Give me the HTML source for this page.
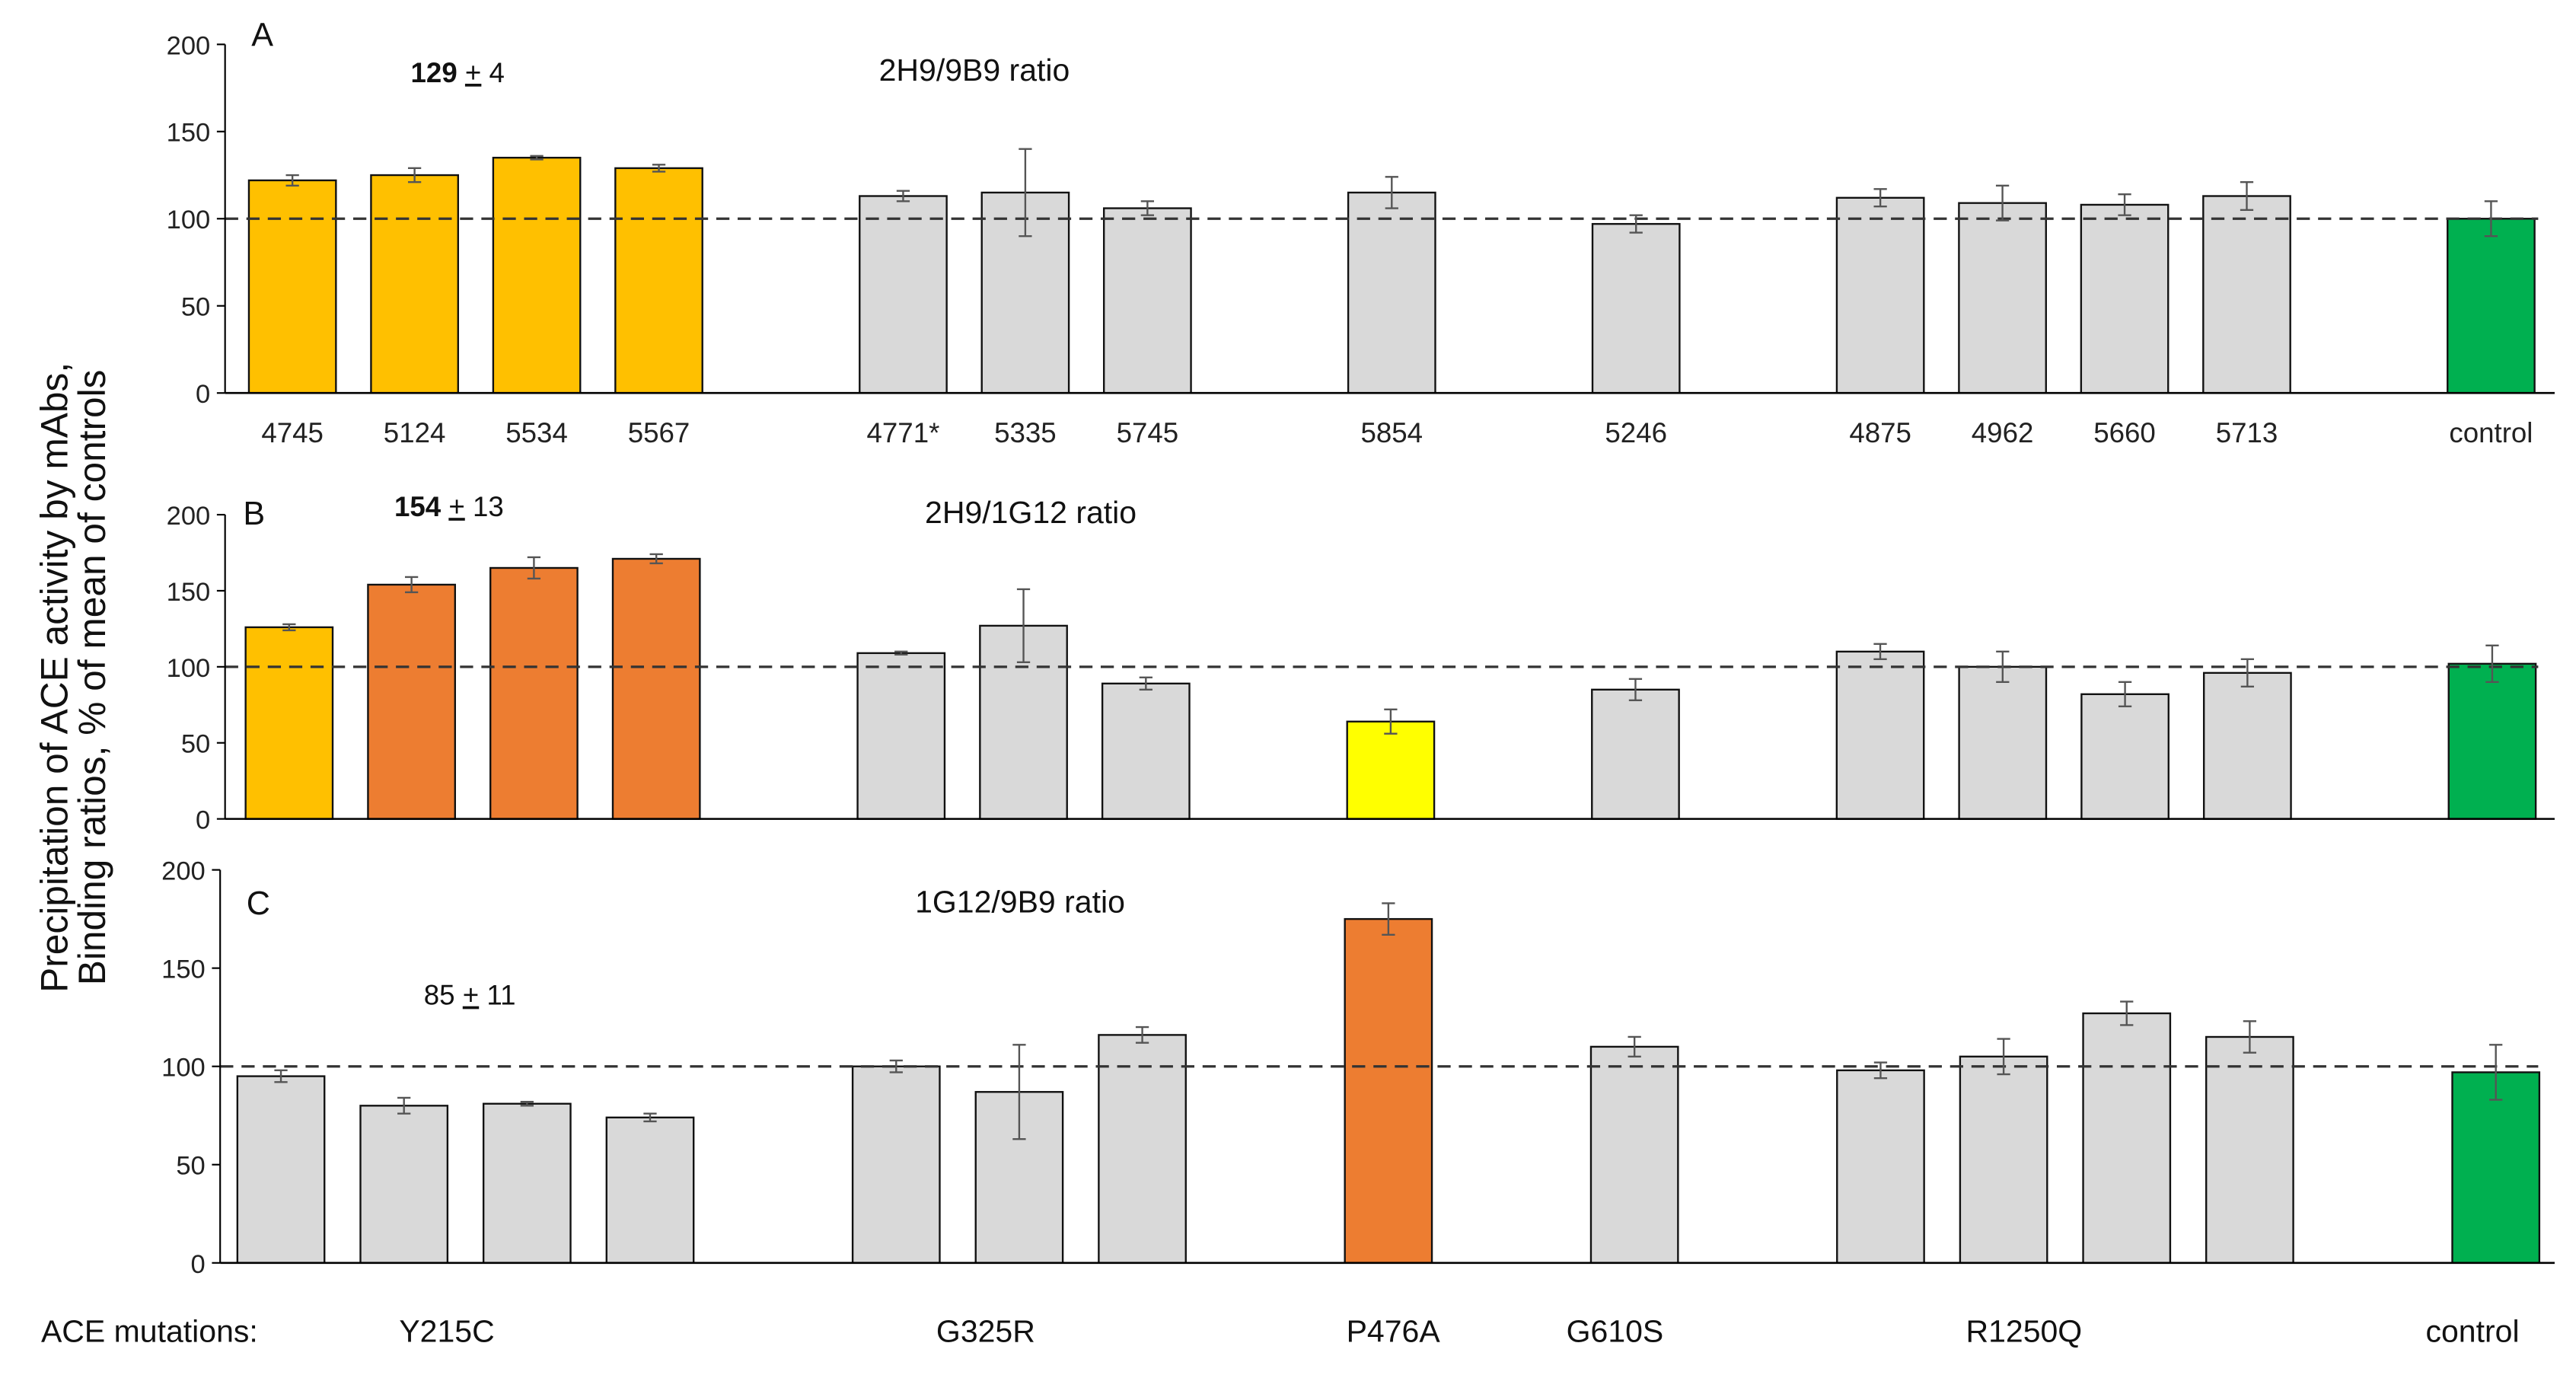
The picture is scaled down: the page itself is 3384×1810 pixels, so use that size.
<!DOCTYPE html>
<html><head><meta charset="utf-8"><style>
html,body{margin:0;padding:0;background:#fff;}
svg{display:block;font-family:"Liberation Sans",sans-serif;}
</style></head><body>
<svg id="chart" width="3384" height="1810" viewBox="0 0 1568 838" preserveAspectRatio="none" xmlns="http://www.w3.org/2000/svg"></svg>
<script>
const categories = ["4745","5124","5534","5567","4771*","5335","5745","5854","5246","4875","4962","5660","5713","control"];
const valuesA = [122,125,135,129,113,115,106,115,97,112,109,108,113,100];
const errorsA = [3,4,1,2,3,25,4,9,5,5,10,6,8,10];
const valuesB = [126,154,165,171,109,127,89,64,85,110,100,82,96,102];
const errorsB = [2,5,7,3,1,24,4,8,7,5,10,8,9,12];
const valuesC = [95,80,81,74,100,87,116,175,110,98,105,127,115,97];
const errorsC = [3,4,1,2,3,24,4,8,5,4,9,6,8,14];
const colorsA = ["#FFC000","#FFC000","#FFC000","#FFC000","#D9D9D9","#D9D9D9","#D9D9D9","#D9D9D9","#D9D9D9","#D9D9D9","#D9D9D9","#D9D9D9","#D9D9D9","#00B050"];
const colorsB = ["#FFC000","#ED7D31","#ED7D31","#ED7D31","#D9D9D9","#D9D9D9","#D9D9D9","#FFFF00","#D9D9D9","#D9D9D9","#D9D9D9","#D9D9D9","#D9D9D9","#00B050"];
const colorsC = ["#D9D9D9","#D9D9D9","#D9D9D9","#D9D9D9","#D9D9D9","#D9D9D9","#D9D9D9","#ED7D31","#D9D9D9","#D9D9D9","#D9D9D9","#D9D9D9","#D9D9D9","#00B050"];
const slots = [0,1,2,3,5,6,7,9,11,13,14,15,16,18];
const yTicks = [0,50,100,150,200];
const groups = ["Y215C","G325R","P476A","G610S","R1250Q","control"];
const groupX = [272,600,848,983,1232,1505];

const NS="http://www.w3.org/2000/svg";
const svg=document.getElementById('chart');
function mk(tag,attrs,parent){const e=document.createElementNS(NS,tag);for(const k in attrs)e.setAttribute(k,attrs[k]);(parent||svg).appendChild(e);return e;}

function panel(name,top,bottom,vals,errs,cols,axisX,showCats,x0,step){
  const xScale=i=>x0+slots[i]*step;
  const g=mk('g',{});
  
  
  const y=v=>bottom-(v/200)*(bottom-top);
  yTicks.forEach(t=>{
    const tk=mk('line',{x1:axisX-5,x2:axisX,y1:y(t),y2:y(t),stroke:'#000','stroke-width':1},g);
    
    
    const tl=mk('text',{x:axisX-9,y:y(t)+6,'text-anchor':'end','font-size':16,fill:'#222'},g);
    
    
    tl.textContent=t;
  });
  vals.forEach((v,i)=>{
    const cx=xScale(i),w=53;
    const r=mk('rect',{x:cx-w/2,y:y(v),width:w,height:bottom-y(v),fill:cols[i],stroke:'#111','stroke-width':1.1},g);
    
    
  });
  const d=mk('line',{x1:axisX,x2:1545,y1:y(100),y2:y(100),stroke:'#333','stroke-width':1.5,'stroke-dasharray':'8,5'},g);
  
  
  vals.forEach((v,i)=>{
    const cx=xScale(i),e=errs[i];
    const eb=mk('path',{d:`M${cx},${y(v+e)}V${y(v-e)}M${cx-4},${y(v+e)}H${cx+4}M${cx-4},${y(v-e)}H${cx+4}`,stroke:'#555','stroke-width':1.1,fill:'none'},g);
    
    
  });
  const ax=mk('line',{x1:axisX,x2:axisX,y1:top,y2:bottom,stroke:'#000','stroke-width':1},g);
  
  
  const xa=mk('line',{x1:axisX,x2:1555,y1:bottom,y2:bottom,stroke:'#000','stroke-width':1.2},g);
  
  
  if(showCats){
    categories.forEach((c,i)=>{
      const t=mk('text',{x:xScale(i),y:bottom+30,'text-anchor':'middle','font-size':17,fill:'#222'},g);
      
      
      t.textContent=c;
    });
  }
}
panel('a',27,239,valuesA,errorsA,colorsA,137,true,178,74.35);
panel('b',313,498,valuesB,errorsB,colorsB,137,false,176,74.5);
panel('c',529,768,valuesC,errorsC,colorsC,134,false,171,74.9);

groups.forEach((gname,i)=>{
  const t=mk('text',{x:groupX[i],y:816,'text-anchor':'middle','font-size':19,fill:'#111'});
  
  
  t.textContent=gname;
});
</script>
<svg style="position:absolute;left:0;top:0" width="3384" height="1810" viewBox="0 0 1568 838" preserveAspectRatio="none" xmlns="http://www.w3.org/2000/svg" font-family="Liberation Sans, sans-serif">
  <text x="25" y="816" font-size="19" fill="#111">ACE mutations:</text>
  <text x="153" y="28" font-size="20" fill="#111">A</text>
  <text x="148" y="319" font-size="20" fill="#111">B</text>
  <text x="150" y="556" font-size="20" fill="#111">C</text>
  <text x="250" y="50" font-size="17" fill="#111"><tspan font-weight="bold">129</tspan> <tspan text-decoration="underline">+</tspan> 4</text>
  <text x="240" y="314" font-size="17" fill="#111"><tspan font-weight="bold">154</tspan> <tspan text-decoration="underline">+</tspan> 13</text>
  <text x="258" y="611" font-size="17" fill="#111">85 <tspan text-decoration="underline">+</tspan> 11</text>
  <text x="535" y="49" font-size="19" fill="#111">2H9/9B9 ratio</text>
  <text x="563" y="318" font-size="19" fill="#111">2H9/1G12 ratio</text>
  <text x="557" y="555" font-size="19" fill="#111">1G12/9B9 ratio</text>
  <text transform="translate(41,412) rotate(-90)" text-anchor="middle" font-size="23" fill="#111">Precipitation of ACE activity by mAbs,</text>
  <text transform="translate(64,412) rotate(-90)" text-anchor="middle" font-size="23" fill="#111">Binding ratios, % of mean of controls</text>
</svg>
</body></html>
